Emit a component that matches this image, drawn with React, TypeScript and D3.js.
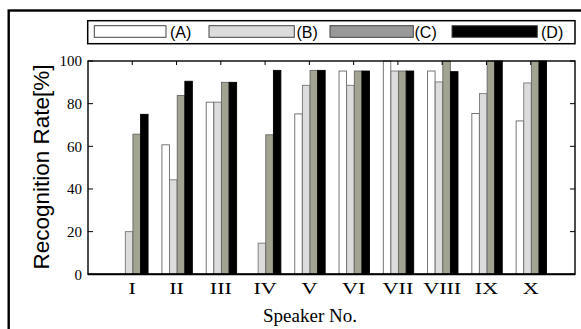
import React from "react";
import * as d3 from "d3";

const categories = ["I", "II", "III", "IV", "V", "VI", "VII", "VIII", "IX", "X"];
const seriesNames = ["(A)", "(B)", "(C)", "(D)"];
const seriesA = [0, 60.7, 80.7, 0, 75.2, 95.3, 100, 95.3, 75.4, 71.9];
const seriesB = [20, 44.3, 80.7, 14.6, 88.6, 88.6, 95.3, 90.2, 84.7, 89.7];
const seriesC = [65.7, 83.8, 90, 65.4, 95.6, 95.3, 95.3, 100, 100, 100];
const seriesD = [75, 90.5, 90, 95.6, 95.6, 95.3, 95.3, 95, 100, 100];
const yTicks = [0, 20, 40, 60, 80, 100];

const barFills = ["#ffffff", "#dcdcdc", "#a2a491", "#000000"];
const legendFills = ["#ffffff", "#dcdcdc", "#999999", "#000000"];
const barStrokes = ["#666666", "#777777", "#666666", "#000000"];

const SERIF = "'Liberation Serif', 'Times New Roman', serif";
const SANS = "'Liberation Sans', Arial, sans-serif";

export default function App() {
  const W = 581, H = 329;
  const left = 88, right = 575, top = 61, bottom = 274.3;
  const x = d3.scaleLinear().domain([0, categories.length + 1]).range([left, right]);
  const y = d3.scaleLinear().domain([0, 100]).range([bottom, top]);
  const inner = d3.scaleBand<number>().domain([0, 1, 2, 3]).range([-15.2, 15.2]).paddingInner(0.02);
  const series = [seriesA, seriesB, seriesC, seriesD];

  const legendItems = [
    { sx: 94.3, sw: 71.7, tx: 170 },
    { sx: 209, sw: 85.3, tx: 296.5 },
    { sx: 330, sw: 83.3, tx: 414.5 },
    { sx: 452, sw: 85.3, tx: 541 },
  ];

  return (
    <svg width={W} height={H} style={{ position: "absolute", left: 0, top: 0, background: "#fff" }}>
      <rect x={0} y={0} width={W} height={H} fill="#fff" />
      <rect x={8.7} y={10.5} width={600} height={400} fill="none" stroke="#000" strokeWidth={2.4} />

      <rect x={87.7} y={20.7} width={487.3} height={23} fill="#fff" stroke="#000" strokeWidth={1.5} />
      {legendItems.map((it, i) => (
        <g key={i}>
          <rect x={it.sx} y={25.7} width={it.sw} height={11.6} fill={legendFills[i]} stroke="#444" strokeWidth={1} />
          <text x={it.tx} y={37.6} fontFamily={SANS} fontSize={16} fill="#000">
            {seriesNames[i]}
          </text>
        </g>
      ))}

      {categories.map((c, ci) => (
        <g key={c}>
          {series.map((s, si) => {
            const v = s[ci];
            if (v <= 0) return null;
            const bx = x(ci + 1) + 0.6 + (inner(si) as number);
            return (
              <rect
                key={si}
                x={bx}
                y={y(v)}
                width={inner.bandwidth()}
                height={y(0) - y(v)}
                fill={barFills[si]}
                stroke={barStrokes[si]}
                strokeWidth={0.9}
              />
            );
          })}
        </g>
      ))}

      <rect x={left} y={top} width={right - left} height={bottom - top} fill="none" stroke="#000" strokeWidth={1.4} />
      <line x1={left} x2={right} y1={bottom} y2={bottom} stroke="#000" strokeWidth={2} />

      {yTicks.map((t) => (
        <g key={t}>
          <line x1={left} x2={left + 5} y1={y(t)} y2={y(t)} stroke="#000" strokeWidth={1} />
          <line x1={right - 5} x2={right} y1={y(t)} y2={y(t)} stroke="#000" strokeWidth={1} />
          <text x={82} y={y(t)} dy="0.36em" textAnchor="end" fontFamily={SERIF} fontSize={15} fill="#000">
            {t}
          </text>
        </g>
      ))}

      {categories.map((c, ci) => (
        <g key={"t" + c}>
          <line x1={x(ci + 1)} x2={x(ci + 1)} y1={top} y2={top + 4} stroke="#000" strokeWidth={1} />
          <text
            transform={`translate(${x(ci + 1)},294) scale(1.3,1)`}
            textAnchor="middle"
            fontFamily={SERIF}
            fontSize={17}
            fill="#000"
          >
            {c}
          </text>
        </g>
      ))}

      <text x={310} y={322} textAnchor="middle" fontFamily={SERIF} fontSize={19} fill="#000">
        Speaker No.
      </text>

      <text
        transform={`translate(49,167) rotate(-90)`}
        textAnchor="middle"
        fontFamily={SANS}
        fontSize={22.5}
        fill="#000"
      >
        Recognition Rate[%]
      </text>
    </svg>
  );
}
